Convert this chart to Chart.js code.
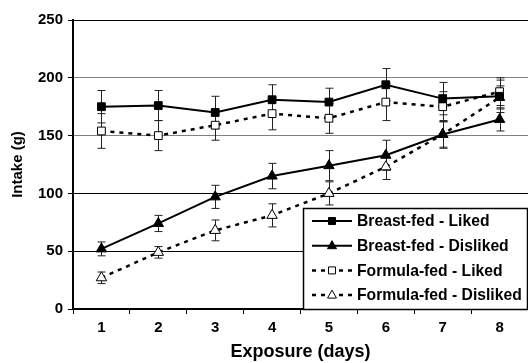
<!DOCTYPE html>
<html>
<head>
<meta charset="utf-8">
<script src="https://cdn.jsdelivr.net/npm/chart.js@4.4.0/dist/chart.umd.min.js"></script>
<style>
  html, body { margin: 0; padding: 0; background: #fff; overflow: hidden; }
  canvas { display: block; }
</style>
</head>
<body>
<canvas id="myChart" width="528" height="363"></canvas>
<script>
// values
const days = ['1', '2', '3', '4', '5', '6', '7', '8'];
const breastLiked = [175, 176, 170, 181, 179, 194, 182, 184];
const breastLikedErr = [14, 13, 14, 13, 12, 14, 14, 14];
const breastDisliked = [52, 74, 97, 115, 124, 133, 151, 164];
const breastDislikedErr = [6, 7, 10, 11, 13, 13, 12, 10];
const formulaLiked = [154, 150, 159, 169, 165, 179, 175, 188];
const formulaLikedErr = [15, 13, 13, 14, 13, 16, 13, 12];
const formulaDisliked = [27, 49, 68, 81, 100, 123, 151, 183];
const formulaDislikedErr = [5, 5, 9, 10, 10, 11, 11, 10];
const yTicks = [0, 50, 100, 150, 200, 250];

const FONT = "'Liberation Sans', Arial, sans-serif";
Chart.defaults.font.family = FONT;
Chart.defaults.font.weight = 'bold';
Chart.defaults.color = '#000';

function series(label, data, err, style, filled, dashed) {
  return {
    label: label,
    data: data,
    err: err,
    borderColor: '#000',
    borderWidth: dashed ? 2.5 : 2,
    borderDash: dashed ? [4, 5] : [],
    pointStyle: style,
    pointRadius: style === 'rect' ? 5.5 : 6,
    pointBackgroundColor: filled ? '#000' : '#fff',
    pointBorderColor: '#000',
    pointBorderWidth: 1,
    fill: false,
    tension: 0
  };
}

// error bars behind the markers
const errorBars = {
  id: 'errorBars',
  beforeDatasetsDraw(chart) {
    const ctx = chart.ctx;
    const y = chart.scales.y;
    ctx.save();
    ctx.strokeStyle = '#222';
    ctx.lineWidth = 1;
    chart.data.datasets.forEach((ds, i) => {
      const meta = chart.getDatasetMeta(i);
      meta.data.forEach((pt, j) => {
        const x = Math.round(pt.x) + 0.5;
        const hi = y.getPixelForValue(ds.data[j] + ds.err[j]);
        const lo = y.getPixelForValue(ds.data[j] - ds.err[j]);
        ctx.beginPath();
        ctx.moveTo(x, hi); ctx.lineTo(x, lo);
        ctx.moveTo(x - 4, hi); ctx.lineTo(x + 4, hi);
        ctx.moveTo(x - 4, lo); ctx.lineTo(x + 4, lo);
        ctx.stroke();
      });
    });
    ctx.restore();
  }
};

// boxed legend sitting inside the plot, lower right
const boxLegend = {
  id: 'boxLegend',
  afterDraw(chart) {
    const ctx = chart.ctx;
    const area = chart.chartArea;
    const left = 303, top = 208;
    ctx.save();
    ctx.fillStyle = '#fff';
    ctx.fillRect(left, top, area.right - left, area.bottom - top);
    ctx.strokeStyle = '#000';
    ctx.lineWidth = 1.5;
    ctx.strokeRect(left + 0.5, top + 0.5, area.right - left - 1, area.bottom - top);
    chart.data.datasets.forEach((ds, i) => {
      const cy = 221 + i * 24.7;
      ctx.beginPath();
      ctx.setLineDash(ds.borderDash);
      ctx.lineWidth = ds.borderWidth;
      ctx.moveTo(312, cy); ctx.lineTo(352, cy);
      ctx.stroke();
      ctx.setLineDash([]);
      ctx.lineWidth = 1;
      ctx.fillStyle = ds.pointBackgroundColor;
      ctx.beginPath();
      if (ds.pointStyle === 'rect') {
        ctx.rect(328.5, cy - 3.5, 7, 7);
      } else {
        ctx.moveTo(332, cy - 5);
        ctx.lineTo(336.5, cy + 3);
        ctx.lineTo(327.5, cy + 3);
        ctx.closePath();
      }
      ctx.fill();
      ctx.stroke();
      ctx.fillStyle = '#000';
      ctx.font = 'bold 15.7px ' + FONT;
      ctx.textBaseline = 'middle';
      ctx.textAlign = 'left';
      ctx.fillText(ds.label, 357, cy + 1);
    });
    ctx.restore();
  }
};

const ctx = document.getElementById('myChart');

new Chart(ctx, {
  type: 'line',
  data: {
    labels: days,
    datasets: [
      series('Breast-fed - Liked', breastLiked, breastLikedErr, 'rect', true, false),
      series('Breast-fed - Disliked', breastDisliked, breastDislikedErr, 'triangle', true, false),
      series('Formula-fed - Liked', formulaLiked, formulaLikedErr, 'rect', false, true),
      series('Formula-fed - Disliked', formulaDisliked, formulaDislikedErr, 'triangle', false, true)
    ]
  },
  options: {
    responsive: false,
    animation: false,
    layout: { autoPadding: false, padding: { top: 20, right: 0, bottom: 0, left: 0 } },
    plugins: {
      legend: { display: false },
      tooltip: { enabled: false }
    },
    scales: {
      x: {
        offset: true,
        grid: { offset: true, drawOnChartArea: false, tickLength: 5, color: '#000' },
        border: { color: '#000', width: 2 },
        ticks: { padding: 5, font: { size: 15, weight: 'bold' } },
        title: {
          display: true,
          text: 'Exposure (days)',
          font: { size: 18, weight: 'bold' },
          padding: { top: 0, bottom: 0 }
        },
        afterFit(scale) {
          scale.height = 54;
        }
      },
      y: {
        min: 0,
        max: 250,
        afterBuildTicks(scale) { scale.ticks = yTicks.map(v => ({ value: v })); },
        grid: {
          color: c => (c.tick && (c.tick.value === 200 || c.tick.value === 150)) ? '#808080' : '#000',
          tickColor: '#000',
          tickLength: 5,
          lineWidth: 1
        },
        border: { color: '#000', width: 2 },
        ticks: { padding: 5, font: { size: 15, weight: 'bold' } },
        title: {
          display: true,
          text: 'Intake (g)',
          font: { size: 15, weight: 'bold' },
          padding: { top: 9, bottom: 0 }
        },
        afterFit(scale) { scale.width = 73; }
      }
    }
  },
  plugins: [errorBars, boxLegend]
});
</script>
</body>
</html>
